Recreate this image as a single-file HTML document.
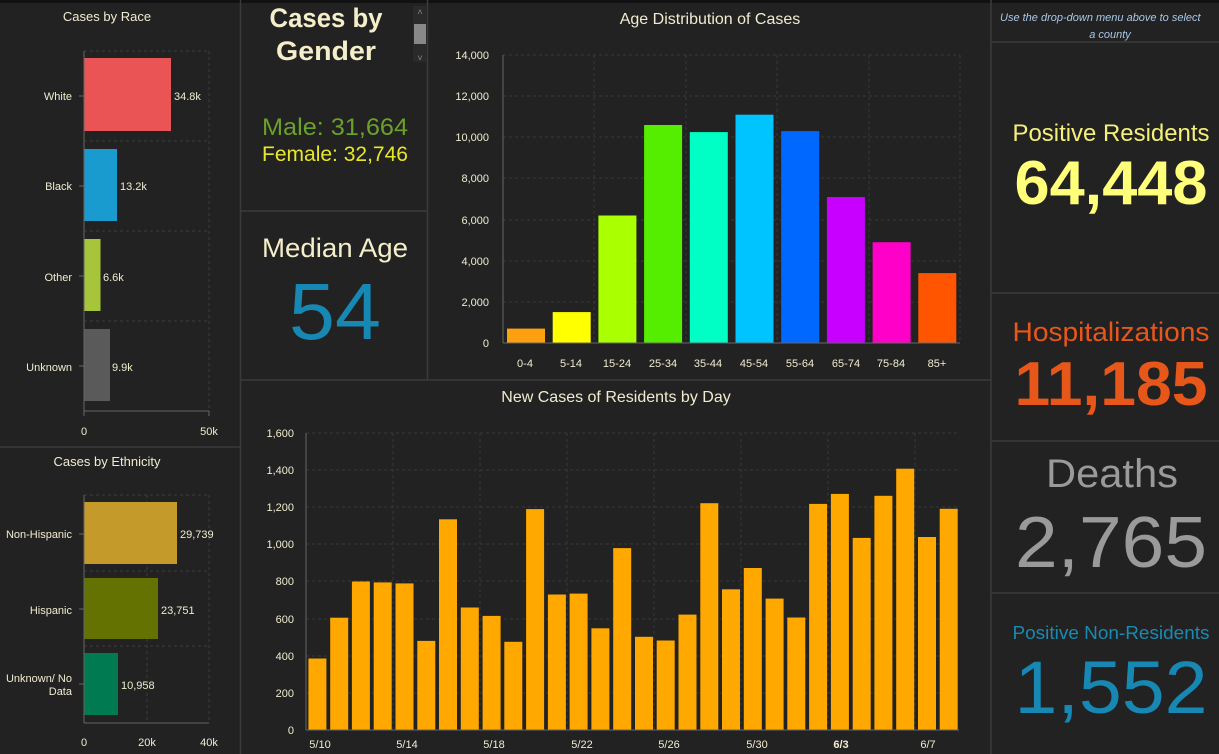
<!DOCTYPE html>
<html><head><meta charset="utf-8"><style>
html,body{margin:0;padding:0;background:#222;width:1219px;height:754px;overflow:hidden}
svg{display:block;font-family:"Liberation Sans",sans-serif}
</style></head><body>
<svg width="1219" height="754" viewBox="0 0 1219 754" xmlns="http://www.w3.org/2000/svg">
<rect width="1219" height="754" fill="#222"/>
<rect width="1219" height="3" fill="#111"/>
<g stroke="#3a3a3a" stroke-width="1.5">
<line x1="240.5" y1="0" x2="240.5" y2="754"/>
<line x1="427.5" y1="0" x2="427.5" y2="380"/>
<line x1="991" y1="0" x2="991" y2="754"/>
<line x1="0" y1="447" x2="240" y2="447"/>
<line x1="240" y1="211" x2="427" y2="211"/>
<line x1="240" y1="380" x2="991" y2="380"/>
<line x1="991" y1="42" x2="1219" y2="42"/>
<line x1="991" y1="293" x2="1219" y2="293"/>
<line x1="991" y1="441" x2="1219" y2="441"/>
<line x1="991" y1="593" x2="1219" y2="593"/>
</g>

<text x="107" y="21" fill="#f0ecd0" font-size="13" text-anchor="middle">Cases by Race</text>
<g stroke="#3c3c3c" stroke-dasharray="3,3" stroke-width="1">
<line x1="84" y1="51" x2="209" y2="51"/><line x1="84" y1="141" x2="209" y2="141"/>
<line x1="84" y1="231" x2="209" y2="231"/><line x1="84" y1="321" x2="209" y2="321"/>
<line x1="209" y1="51" x2="209" y2="411"/>
</g>
<rect x="84" y="58" width="87" height="73" fill="#ea5455"/>
<rect x="84" y="149" width="33" height="72" fill="#1a9bd0"/>
<rect x="84" y="239" width="16.5" height="72" fill="#a6c53a"/>
<rect x="84" y="329" width="26" height="72" fill="#5a5a5a"/>
<g stroke="#666" stroke-width="1"><line x1="84" y1="51" x2="84" y2="411"/><line x1="84" y1="411" x2="209" y2="411"/>
<line x1="79" y1="96" x2="84" y2="96"/><line x1="79" y1="186" x2="84" y2="186"/><line x1="79" y1="276" x2="84" y2="276"/><line x1="79" y1="366" x2="84" y2="366"/>
<line x1="209" y1="411" x2="209" y2="416"/><line x1="84" y1="411" x2="84" y2="416"/></g>
<g fill="#f0ecd0" font-size="11">
<text x="72" y="100" text-anchor="end">White</text><text x="72" y="190" text-anchor="end">Black</text>
<text x="72" y="281" text-anchor="end">Other</text><text x="72" y="371" text-anchor="end">Unknown</text>
<text x="174" y="100">34.8k</text><text x="120" y="190">13.2k</text><text x="103" y="281">6.6k</text><text x="112" y="371">9.9k</text>
<text x="84" y="435" text-anchor="middle">0</text><text x="209" y="435" text-anchor="middle">50k</text>
</g>

<text x="107" y="466" fill="#f0ecd0" font-size="13" text-anchor="middle">Cases by Ethnicity</text>
<g stroke="#3c3c3c" stroke-dasharray="3,3" stroke-width="1">
<line x1="84" y1="495" x2="209" y2="495"/><line x1="84" y1="571" x2="209" y2="571"/><line x1="84" y1="646" x2="209" y2="646"/>
<line x1="147" y1="495" x2="147" y2="723"/><line x1="209" y1="495" x2="209" y2="723"/>
</g>
<rect x="84" y="502" width="93" height="62" fill="#c49a2a"/>
<rect x="84" y="578" width="74" height="61" fill="#637200"/>
<rect x="84" y="653" width="34" height="62" fill="#007a50"/>
<g stroke="#666"><line x1="84" y1="495" x2="84" y2="723"/><line x1="84" y1="723" x2="209" y2="723"/>
<line x1="79" y1="534" x2="84" y2="534"/><line x1="79" y1="609" x2="84" y2="609"/><line x1="79" y1="684" x2="84" y2="684"/></g>
<g fill="#f0ecd0" font-size="11">
<text x="72" y="538" text-anchor="end">Non-Hispanic</text><text x="72" y="614" text-anchor="end">Hispanic</text>
<text x="72" y="682" text-anchor="end">Unknown/ No</text><text x="72" y="695" text-anchor="end">Data</text>
<text x="180" y="538">29,739</text><text x="161" y="614">23,751</text><text x="121" y="689">10,958</text>
<text x="84" y="746" text-anchor="middle">0</text><text x="147" y="746" text-anchor="middle">20k</text><text x="209" y="746" text-anchor="middle">40k</text>
</g>

<g fill="#f5eecb" font-size="27" font-weight="bold" text-anchor="middle">
<text x="326" y="27" textLength="113" lengthAdjust="spacingAndGlyphs">Cases by</text><text x="326" y="60" textLength="100" lengthAdjust="spacingAndGlyphs">Gender</text></g>
<rect x="413" y="6" width="14" height="56" fill="#2a2a2a"/>
<rect x="414" y="24" width="12" height="20" fill="#888"/>
<text x="420" y="15" fill="#888" font-size="9" text-anchor="middle">˄</text>
<text x="420" y="61" fill="#888" font-size="9" text-anchor="middle">˅</text>
<text x="335" y="135" fill="#6aa12a" font-size="24" text-anchor="middle" textLength="146" lengthAdjust="spacingAndGlyphs">Male: 31,664</text>
<text x="335" y="161" fill="#e8e62a" font-size="21" text-anchor="middle" textLength="146" lengthAdjust="spacingAndGlyphs">Female: 32,746</text>
<text x="335" y="257" fill="#f5eecb" font-size="27" text-anchor="middle" textLength="146" lengthAdjust="spacingAndGlyphs">Median Age</text>
<text x="335" y="339" fill="#1787b3" font-size="80" text-anchor="middle" textLength="92" lengthAdjust="spacingAndGlyphs">54</text>

<text x="710" y="24" fill="#f0ecd0" font-size="16" text-anchor="middle">Age Distribution of Cases</text>
<g stroke="#383838" stroke-dasharray="3,3">
<line x1="503" y1="55" x2="960" y2="55"/><line x1="503" y1="96" x2="960" y2="96"/><line x1="503" y1="137" x2="960" y2="137"/>
<line x1="503" y1="178" x2="960" y2="178"/><line x1="503" y1="220" x2="960" y2="220"/><line x1="503" y1="261" x2="960" y2="261"/>
<line x1="503" y1="302" x2="960" y2="302"/>
<line x1="594" y1="55" x2="594" y2="343"/><line x1="686" y1="55" x2="686" y2="343"/><line x1="777" y1="55" x2="777" y2="343"/><line x1="869" y1="55" x2="869" y2="343"/><line x1="960" y1="55" x2="960" y2="343"/>
</g>
<rect x="507" y="328.6" width="38" height="14.4" fill="#ffa010"/>
<rect x="552.7" y="312.1" width="38" height="30.9" fill="#ffff00"/>
<rect x="598.4" y="215.5" width="38" height="127.5" fill="#aaff00"/>
<rect x="644.1" y="125" width="38" height="218" fill="#55ee00"/>
<rect x="689.8" y="132.1" width="38" height="210.9" fill="#00ffc4"/>
<rect x="735.5" y="114.7" width="38" height="228.3" fill="#00c4ff"/>
<rect x="781.2" y="131.1" width="38" height="211.9" fill="#0068ff"/>
<rect x="826.9" y="197" width="38" height="146" fill="#c800ff"/>
<rect x="872.6" y="242.2" width="38" height="100.8" fill="#ff00c8"/>
<rect x="918.3" y="273.1" width="38" height="69.9" fill="#ff5500"/>
<g stroke="#666"><line x1="503" y1="55" x2="503" y2="343"/><line x1="503" y1="343" x2="960" y2="343"/></g>
<g fill="#f0ecd0" font-size="11" text-anchor="end">
<text x="489" y="59">14,000</text><text x="489" y="100">12,000</text><text x="489" y="141">10,000</text><text x="489" y="182">8,000</text>
<text x="489" y="224">6,000</text><text x="489" y="265">4,000</text><text x="489" y="306">2,000</text><text x="489" y="347">0</text></g>
<g fill="#f0ecd0" font-size="11" text-anchor="middle">
<text x="525" y="367">0-4</text><text x="571" y="367">5-14</text><text x="617" y="367">15-24</text><text x="663" y="367">25-34</text><text x="708" y="367">35-44</text>
<text x="754" y="367">45-54</text><text x="800" y="367">55-64</text><text x="846" y="367">65-74</text><text x="891" y="367">75-84</text><text x="937" y="367">85+</text></g>

<text x="616" y="402" fill="#f0ecd0" font-size="16" text-anchor="middle">New Cases of Residents by Day</text>
<g stroke="#383838" stroke-dasharray="3,3">
<line x1="306" y1="433" x2="959" y2="433"/><line x1="306" y1="470" x2="959" y2="470"/><line x1="306" y1="507" x2="959" y2="507"/>
<line x1="306" y1="544" x2="959" y2="544"/><line x1="306" y1="581" x2="959" y2="581"/><line x1="306" y1="619" x2="959" y2="619"/>
<line x1="306" y1="656" x2="959" y2="656"/><line x1="306" y1="693" x2="959" y2="693"/>
<line x1="393" y1="433" x2="393" y2="730"/><line x1="480" y1="433" x2="480" y2="730"/><line x1="567" y1="433" x2="567" y2="730"/>
<line x1="654" y1="433" x2="654" y2="730"/><line x1="741" y1="433" x2="741" y2="730"/><line x1="828" y1="433" x2="828" y2="730"/><line x1="915" y1="433" x2="915" y2="730"/>
</g>
<g fill="#ffa800">
<rect x="308.4" y="658.5" width="18" height="71.5"/><rect x="330.2" y="617.7" width="18" height="112.3"/>
<rect x="351.9" y="581.5" width="18" height="148.5"/><rect x="373.7" y="582.4" width="18" height="147.6"/>
<rect x="395.5" y="583.4" width="18" height="146.6"/><rect x="417.3" y="640.9" width="18" height="89.1"/>
<rect x="439.0" y="519.3" width="18" height="210.7"/><rect x="460.8" y="607.5" width="18" height="122.5"/>
<rect x="482.6" y="615.9" width="18" height="114.1"/><rect x="504.3" y="641.8" width="18" height="88.2"/>
<rect x="526.1" y="509.1" width="18" height="220.9"/><rect x="547.9" y="594.5" width="18" height="135.5"/>
<rect x="569.6" y="593.6" width="18" height="136.4"/><rect x="591.4" y="628.3" width="18" height="101.7"/>
<rect x="613.2" y="548.1" width="18" height="181.9"/><rect x="635.0" y="636.8" width="18" height="93.2"/>
<rect x="656.7" y="640.5" width="18" height="89.5"/><rect x="678.5" y="614.6" width="18" height="115.4"/>
<rect x="700.3" y="503.2" width="18" height="226.8"/><rect x="722.0" y="589.3" width="18" height="140.7"/>
<rect x="743.8" y="568" width="18" height="162"/><rect x="765.6" y="598.6" width="18" height="131.4"/>
<rect x="787.3" y="617.5" width="18" height="112.5"/><rect x="809.1" y="503.9" width="18" height="226.1"/>
<rect x="830.9" y="493.9" width="18" height="236.1"/><rect x="852.7" y="537.9" width="18" height="192.1"/>
<rect x="874.4" y="495.8" width="18" height="234.2"/><rect x="896.2" y="468.7" width="18" height="261.3"/>
<rect x="918.0" y="537" width="18" height="193"/><rect x="939.7" y="508.8" width="18" height="221.2"/>
</g>
<g stroke="#666"><line x1="306" y1="433" x2="306" y2="730"/><line x1="306" y1="730" x2="959" y2="730"/></g>
<g fill="#f0ecd0" font-size="11" text-anchor="end">
<text x="294" y="437">1,600</text><text x="294" y="474">1,400</text><text x="294" y="511">1,200</text><text x="294" y="548">1,000</text>
<text x="294" y="585">800</text><text x="294" y="623">600</text><text x="294" y="660">400</text><text x="294" y="697">200</text><text x="294" y="734">0</text></g>
<g fill="#f0ecd0" font-size="11" text-anchor="middle">
<text x="320" y="748">5/10</text><text x="407" y="748">5/14</text><text x="494" y="748">5/18</text><text x="582" y="748">5/22</text>
<text x="669" y="748">5/26</text><text x="757" y="748">5/30</text><text x="841" y="748" font-weight="bold">6/3</text><text x="928" y="748">6/7</text></g>

<text x="1000" y="21" fill="#a8c8e8" font-size="11" font-style="italic">Use the drop-down menu above to select</text>
<text x="1110" y="38" fill="#a8c8e8" font-size="11" font-style="italic" text-anchor="middle">a county</text>
<text x="1111" y="141" fill="#f5f07a" font-size="24" text-anchor="middle" textLength="197" lengthAdjust="spacingAndGlyphs">Positive Residents</text>
<text x="1111" y="204" fill="#ffff7a" font-size="62" font-weight="bold" text-anchor="middle" textLength="193" lengthAdjust="spacingAndGlyphs">64,448</text>
<text x="1111" y="341" fill="#e8571a" font-size="27" text-anchor="middle" textLength="197" lengthAdjust="spacingAndGlyphs">Hospitalizations</text>
<text x="1111" y="405" fill="#e8571a" font-size="62" font-weight="bold" text-anchor="middle" textLength="193" lengthAdjust="spacingAndGlyphs">11,185</text>
<text x="1112" y="487" fill="#9a9a9a" font-size="40" text-anchor="middle" textLength="132" lengthAdjust="spacingAndGlyphs">Deaths</text>
<text x="1111" y="567" fill="#9a9a9a" font-size="72" text-anchor="middle" textLength="192" lengthAdjust="spacingAndGlyphs">2,765</text>
<text x="1111" y="639" fill="#1a8ab0" font-size="18" text-anchor="middle" textLength="197" lengthAdjust="spacingAndGlyphs">Positive Non-Residents</text>
<text x="1111" y="713" fill="#1787b3" font-size="74" text-anchor="middle" textLength="193" lengthAdjust="spacingAndGlyphs">1,552</text>
</svg>
</body></html>
